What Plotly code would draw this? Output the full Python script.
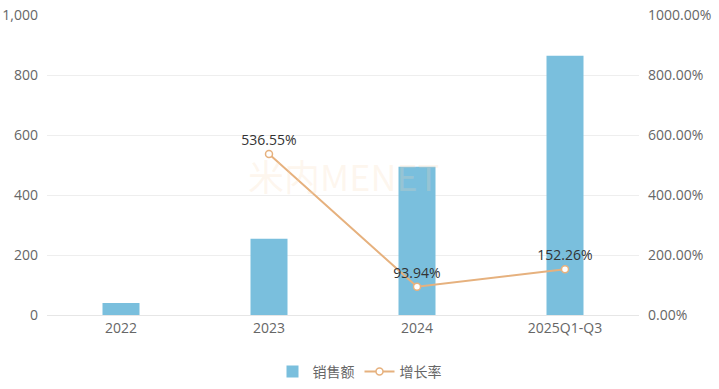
import plotly.graph_objects as go

categories = ["2022", "2023", "2024", "2025Q1-Q3"]
sales = [40, 254, 494, 864]
growth = [None, 536.55, 93.94, 152.26]
growth_labels = ["", "536.55%", "93.94%", "152.26%"]

bar_color = "#7ABFDD"
line_color = "#E6B17E"
font_family = "Open Sans, Noto Sans CJK SC, sans-serif"

fig = go.Figure()
fig.add_trace(go.Bar(
    x=categories, y=sales, name="销售额",
    marker=dict(color=bar_color, line=dict(width=0)),
    width=0.25, yaxis="y",
))
fig.add_trace(go.Scatter(
    x=categories, y=growth, name="增长率",
    mode="lines+markers+text",
    text=growth_labels, textposition="top center",
    textfont=dict(size=14, color="#333333"),
    line=dict(color=line_color, width=2),
    marker=dict(symbol="circle", size=7, color="white", line=dict(color=line_color, width=1.5)),
    yaxis="y2",
))

fig.add_annotation(
    text="米内MENET", x=0.5, y=0.465, xref="paper", yref="paper",
    showarrow=False, font=dict(size=36, color="rgba(250,215,180,0.22)", family="Noto Sans CJK SC"),
)

fig.update_layout(
    width=719, height=389,
    margin=dict(l=47, r=80, t=15, b=74),
    paper_bgcolor="white", plot_bgcolor="white",
    font=dict(family=font_family, size=14, color="#666666"),
    bargap=0.75,
    xaxis=dict(showgrid=False, showline=True, linecolor="#E6E6E6", ticks="", automargin=False,
               tickfont=dict(size=14, color="#666666")),
    yaxis=dict(range=[0, 1000], dtick=200, tickformat=",d", showgrid=True, gridcolor="#EEEEEE",
               zeroline=False, ticks="", automargin=False,
               tickfont=dict(size=14, color="#666666"), ticklabelstandoff=8),
    yaxis2=dict(range=[0, 1000], dtick=200, overlaying="y", side="right", showgrid=False,
                zeroline=False, tickformat=".2f", ticksuffix="%", ticks="", automargin=False,
                tickfont=dict(size=14, color="#666666"), ticklabelstandoff=8),
    legend=dict(orientation="h", x=0.5, xanchor="center", xref="container",
                y=0.044, yanchor="middle", yref="container",
                font=dict(size=14, color="#666666")),
    showlegend=True,
)

fig.write_html("out.html", config={"displayModeBar": False},
               post_script="document.body.style.margin='0';document.body.style.overflow='hidden';")
